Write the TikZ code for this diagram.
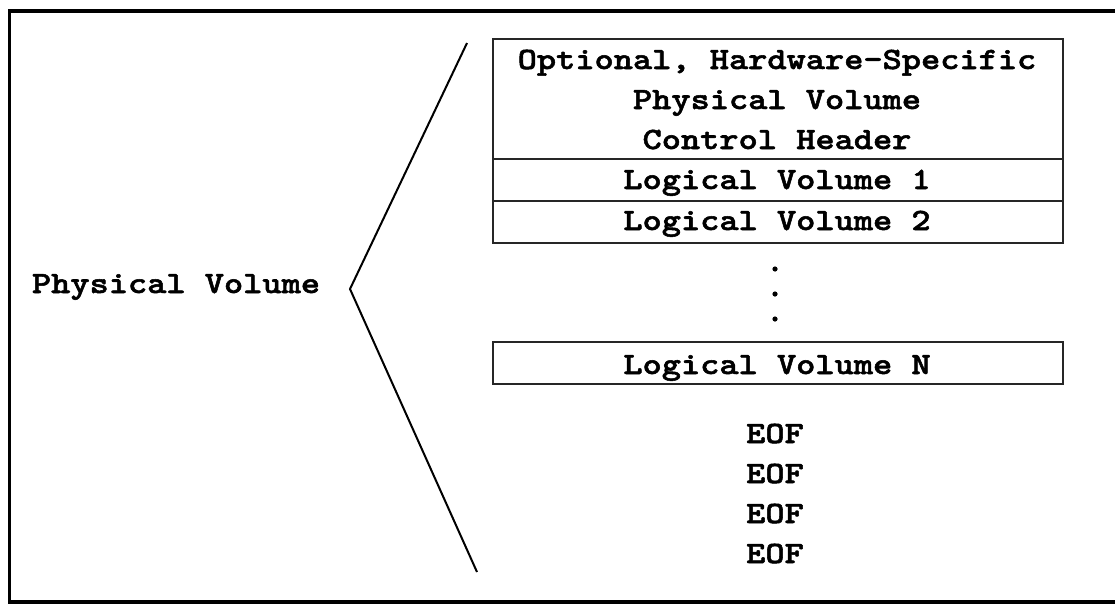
\documentclass[tikz,border=0pt]{standalone}
\usepackage{fontspec}
\newfontfamily\cour[FakeStretch=1.18, FakeBold=1.7]{lmmonolt10-bold.otf}
\begin{document}
\begin{tikzpicture}[x=1pt,y=-1pt,
  lbl/.style={font=\cour\fontsize{31}{40}\selectfont, inner sep=0pt, anchor=base},
  cell/.style={draw=black!85, line width=2pt, minimum width=570pt, inner sep=0pt, anchor=north west},
  frame/.style={line width=3.5pt, black}]
\useasboundingbox (0,0) rectangle (1115,606);
% outer frame (right side lies outside the picture)
\draw[frame] (1140,11) -- (9.5,11) -- (9.5,602) -- (1140,602);
% boxes
\node[cell, minimum height=120pt] (hdr) at (492,38) {};
\node[cell, minimum height=42pt] (lv1) at (492,158) {};
\node[cell, minimum height=42pt] (lv2) at (492,200) {};
\node[cell, minimum height=42pt] (lvn) at (492,341) {};
% texts
\node[lbl] (t1) at (777,69) {Optional, Hardware-Specific};
\node[lbl] (t2) at (777,109) {Physical Volume};
\node[lbl] (t3) at (777,149) {Control Header};
\node[lbl] (t4) at (777,189) {Logical Volume 1};
\node[lbl] (t5) at (777,230) {Logical Volume 2};
\node[lbl] (t6) at (777,374) {Logical Volume N};
\node[lbl] (pv) at (176,293) {Physical Volume};
\node[lbl] (e1) at (775,443) {EOF};
\node[lbl] (e2) at (775,483) {EOF};
\node[lbl] (e3) at (775,523) {EOF};
\node[lbl] (e4) at (775,563) {EOF};
% dots
\fill (775,269) circle (2.6);
\fill (775,294) circle (2.6);
\fill (775,319) circle (2.6);
% brace lines
\coordinate (ptop) at (467,43);
\coordinate (papex) at (350,289);
\coordinate (pbot) at (477,572);
\draw[line width=2pt] (ptop) -- (papex) -- (pbot);
\end{tikzpicture}
\end{document}
